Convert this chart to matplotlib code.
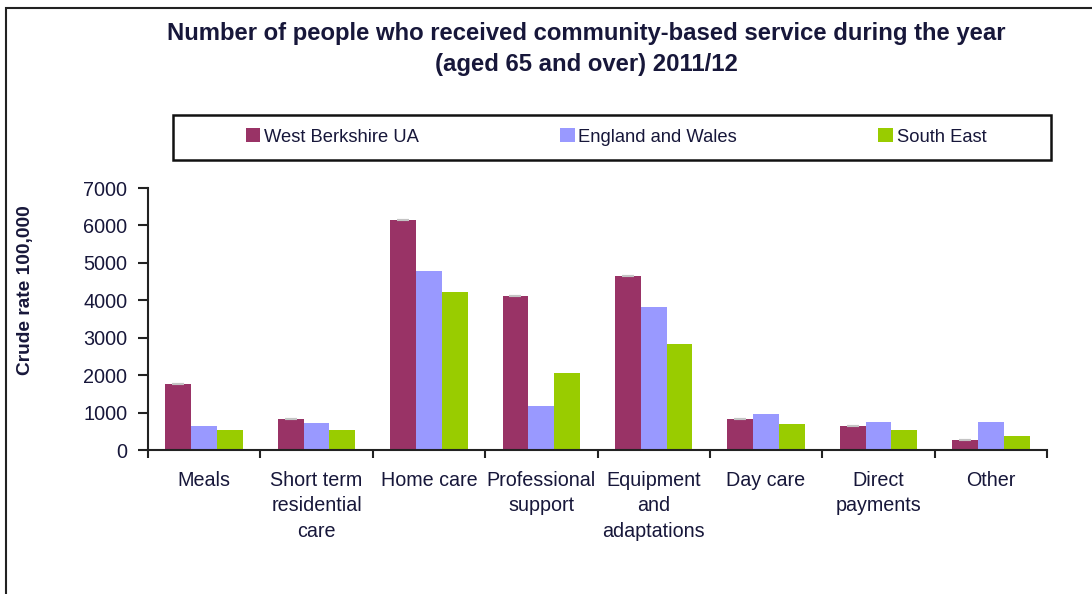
import matplotlib.pyplot as plt
from matplotlib.patches import Rectangle
import numpy as np

plt.rcParams['font.family'] = ['Liberation Sans', 'DejaVu Sans']

categories = ['Meals', 'Short term\nresidential\ncare', 'Home care', 'Professional\nsupport',
              'Equipment\nand\nadaptations', 'Day care', 'Direct\npayments', 'Other']
west_berkshire = [1770, 820, 6150, 4120, 4660, 820, 650, 275]
england_wales = [650, 715, 4775, 1185, 3810, 970, 755, 755]
south_east = [545, 545, 4230, 2050, 2840, 705, 545, 385]
series_names = ['West Berkshire UA', 'England and Wales', 'South East']
colors = ['#993366', '#9999FF', '#99CC00']
text_col = '#17173a'

W, H = 1092, 594
fig = plt.figure(figsize=(W / 100, H / 100), dpi=100)
ax = fig.add_axes([148 / W, 1 - 450 / H, (1047 - 148) / W, 262 / H])

x = np.arange(len(categories))
bw = 0.23
all_series = [west_berkshire, england_wales, south_east]
for i, (vals, name, c) in enumerate(zip(all_series, series_names, colors)):
    ax.bar(x + (i - 1) * bw, vals, width=bw, color=c, label=name, linewidth=0)

# small grey caps on top of the West Berkshire bars
ax.errorbar(x - bw, west_berkshire, yerr=0, fmt='none', ecolor='#c4c4c4',
            capsize=4, capthick=1.5, elinewidth=0)

ax.set_xlim(-0.5, len(categories) - 0.5)
ax.set_ylim(0, 7000)
ax.set_yticks(range(0, 7001, 1000))
ax.set_xticks(x)
ax.set_xticklabels(categories, linespacing=1.44)
ax.set_xticks(np.arange(-0.5, len(categories)), minor=True)

for s in ['top', 'right']:
    ax.spines[s].set_visible(False)
for s in ['left', 'bottom']:
    ax.spines[s].set_linewidth(1.5)
    ax.spines[s].set_color('#222222')

ax.tick_params(axis='x', which='major', length=0, pad=15, labelsize=14.2, labelcolor=text_col)
ax.tick_params(axis='x', which='minor', length=6, width=1.5, color='#222222')
ax.tick_params(axis='y', length=7, width=1.5, color='#222222', pad=8, labelsize=14.3,
               labelcolor=text_col)

fig.text(26 / W, 1 - 290 / H, 'Crude rate 100,000', rotation=90, ha='center', va='center',
         fontsize=13.8, fontweight='bold', color=text_col)

fig.text(586 / W, 1 - 22 / H,
         'Number of people who received community-based service during the year\n'
         '(aged 65 and over) 2011/12',
         ha='center', va='top', fontsize=17.2, fontweight='bold', color=text_col,
         linespacing=1.43)

# legend frame and legend
fig.patches.append(Rectangle((173 / W, 1 - 160 / H), (1051 - 173) / W, 45 / H,
                             transform=fig.transFigure, fill=False, edgecolor='#111111',
                             linewidth=1.8))
leg = fig.legend(loc='center', bbox_to_anchor=(616 / W, 1 - 137 / H), ncol=3,
                 frameon=False, fontsize=13.2, handlelength=0.8, handleheight=0.8,
                 handletextpad=0.2, columnspacing=7.7)
for t in leg.get_texts():
    t.set_color(text_col)

# outer chart border
fig.patches.append(Rectangle((6 / W, -0.05), 1.1, 1 - 8 / H + 0.05,
                             transform=fig.transFigure, fill=False, edgecolor='#222222',
                             linewidth=1.5))

fig.savefig('out.png', dpi=100)
